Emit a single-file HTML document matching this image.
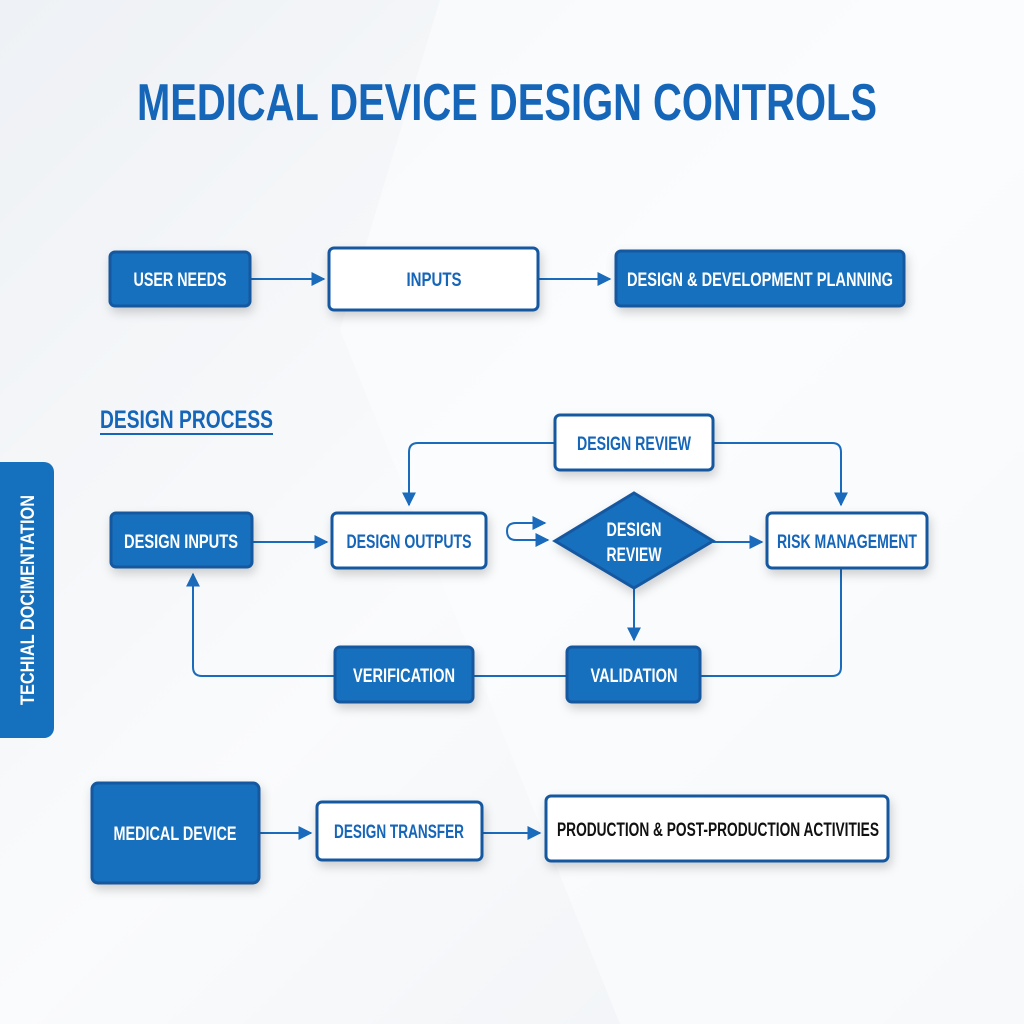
<!DOCTYPE html>
<html><head><meta charset="utf-8"><style>
html,body{margin:0;padding:0;background:#fff}
svg{display:block}
text{font-family:"Liberation Sans",sans-serif;font-weight:bold}
</style></head><body>
<svg width="1024" height="1024" viewBox="0 0 1024 1024" xmlns="http://www.w3.org/2000/svg">
<defs>
<linearGradient id="bg" x1="0" y1="0" x2="1" y2="1">
<stop offset="0" stop-color="#eef1f5"/><stop offset="0.5" stop-color="#fafbfc"/><stop offset="1" stop-color="#eef1f5"/>
</linearGradient>
<filter id="sh" x="-20%" y="-30%" width="140%" height="170%"><feDropShadow dx="2" dy="5" stdDeviation="5" flood-color="#000" flood-opacity="0.18"/></filter>
<marker id="ar" viewBox="0 0 10 10" refX="9" refY="5" markerWidth="7" markerHeight="7" orient="auto"><path d="M0,0L10,5L0,10z" fill="#1a6bbb"/></marker>
</defs>
<rect width="1024" height="1024" fill="url(#bg)"/>
<polygon points="440,0 1024,0 1024,1024 620,1024 340,330" fill="#fbfcfd" opacity="0.7"/>
<text x="507" y="120" text-anchor="middle" font-size="52" fill="#1565b8" textLength="740" lengthAdjust="spacingAndGlyphs">MEDICAL DEVICE DESIGN CONTROLS</text>

<g stroke="#1a6bbb" stroke-width="2" fill="none" marker-end="url(#ar)">
<line x1="251" y1="279" x2="324" y2="279"/>
<line x1="539" y1="279" x2="610" y2="279"/>
<path d="M555,443 H418 Q409,443 409,452 V505"/>
<path d="M713,443 H832 Q841,443 841,452 V505"/>
<line x1="253" y1="542" x2="327" y2="542"/>
<line x1="713" y1="542" x2="762" y2="542"/>
<line x1="634" y1="588" x2="634" y2="640"/>
<path d="M516,540 Q507,540 507,531 Q507,523 516,523 H545"/>
<line x1="516" y1="540" x2="548" y2="540"/>
<path d="M335,676 H202 Q193,676 193,667 V574"/>
<line x1="260" y1="833" x2="311" y2="833"/>
<line x1="482" y1="833" x2="540" y2="833"/>
</g>
<g stroke="#1a6bbb" stroke-width="2" fill="none">
<line x1="473" y1="676" x2="567" y2="676"/>
<path d="M841,568 V667 Q841,676 832,676 H700"/>
</g>

<g filter="url(#sh)" stroke="#1558a0" stroke-width="3">
<rect x="110" y="252" width="140" height="54" rx="5" fill="#1570bd"/>
<rect x="329" y="248" width="209" height="62" rx="5" fill="#fff"/>
<rect x="616" y="251" width="288" height="55" rx="5" fill="#1570bd"/>
<rect x="555" y="415" width="158" height="55" rx="5" fill="#fff"/>
<rect x="111" y="513" width="141" height="54" rx="5" fill="#1570bd"/>
<rect x="332" y="513" width="154" height="55" rx="5" fill="#fff"/>
<polygon points="634,493 713,541 634,588 555,541" fill="#1570bd"/>
<rect x="767" y="513" width="160" height="55" rx="5" fill="#fff"/>
<rect x="335" y="647" width="138" height="55" rx="5" fill="#1570bd"/>
<rect x="567" y="647" width="133" height="55" rx="5" fill="#1570bd"/>
<rect x="92" y="783" width="167" height="100" rx="6" fill="#1570bd"/>
<rect x="317" y="802" width="165" height="58" rx="5" fill="#fff"/>
<rect x="546" y="796" width="342" height="65" rx="5" fill="#fff"/>
</g>
<rect x="-10" y="462" width="64" height="276" rx="10" fill="#1570bd"/>
<text transform="translate(34,600) rotate(-90)" text-anchor="middle" font-size="19" fill="#fff" textLength="210" lengthAdjust="spacingAndGlyphs">TECHIAL DOCIMENTATION</text>

<text x="100" y="428" font-size="25" fill="#1565b8" textLength="173" lengthAdjust="spacingAndGlyphs">DESIGN PROCESS</text>
<rect x="100" y="433" width="173" height="2" fill="#1565b8"/>

<g font-size="19" text-anchor="middle">
<text x="180" y="286" fill="#fff" textLength="93" lengthAdjust="spacingAndGlyphs">USER NEEDS</text>
<text x="434" y="286" fill="#1565b8" textLength="55" lengthAdjust="spacingAndGlyphs">INPUTS</text>
<text x="760" y="286" fill="#fff" textLength="266" lengthAdjust="spacingAndGlyphs">DESIGN &amp; DEVELOPMENT PLANNING</text>
<text x="634" y="450" fill="#1565b8" textLength="114" lengthAdjust="spacingAndGlyphs">DESIGN REVIEW</text>
<text x="181" y="548" fill="#fff" textLength="114" lengthAdjust="spacingAndGlyphs">DESIGN INPUTS</text>
<text x="409" y="548" fill="#1565b8" textLength="125" lengthAdjust="spacingAndGlyphs">DESIGN OUTPUTS</text>
<text x="634" y="536" fill="#fff" textLength="55" lengthAdjust="spacingAndGlyphs">DESIGN</text>
<text x="634" y="561" fill="#fff" textLength="55" lengthAdjust="spacingAndGlyphs">REVIEW</text>
<text x="847" y="548" fill="#1565b8" textLength="140" lengthAdjust="spacingAndGlyphs">RISK MANAGEMENT</text>
<text x="404" y="682" fill="#fff" textLength="102" lengthAdjust="spacingAndGlyphs">VERIFICATION</text>
<text x="634" y="682" fill="#fff" textLength="87" lengthAdjust="spacingAndGlyphs">VALIDATION</text>
<text x="175" y="840" fill="#fff" textLength="123" lengthAdjust="spacingAndGlyphs">MEDICAL DEVICE</text>
<text x="399" y="838" fill="#1565b8" textLength="130" lengthAdjust="spacingAndGlyphs">DESIGN TRANSFER</text>
<text x="718" y="836" fill="#111" textLength="322" lengthAdjust="spacingAndGlyphs">PRODUCTION &amp; POST-PRODUCTION ACTIVITIES</text>
</g>
</svg>
</body></html>
